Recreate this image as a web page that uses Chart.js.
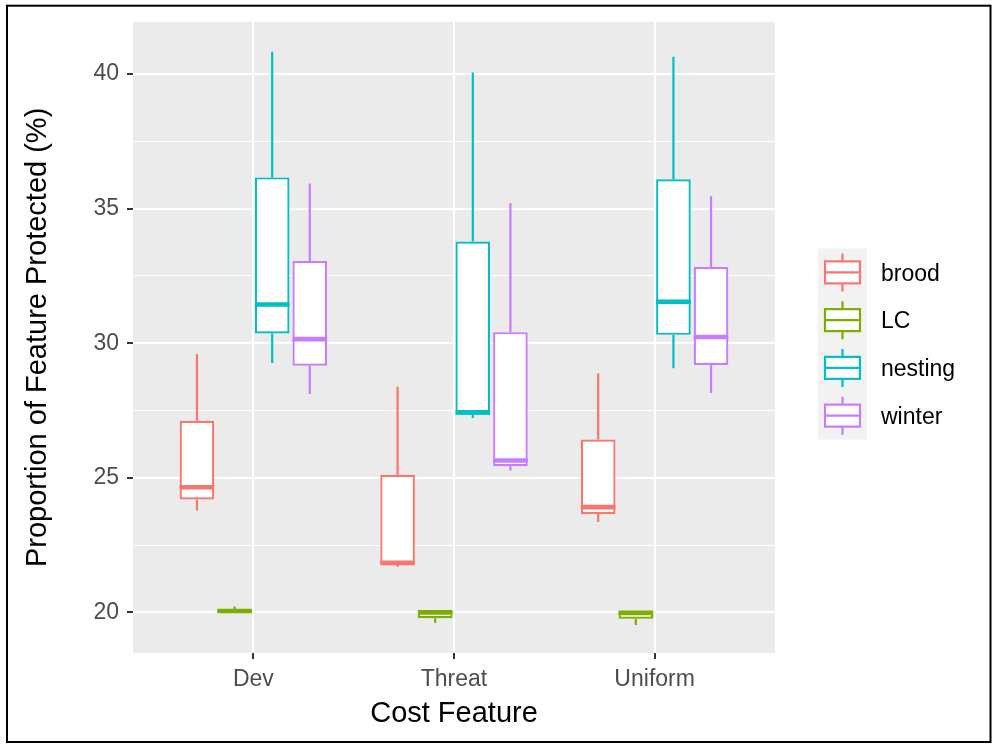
<!DOCTYPE html>
<html>
<head>
<meta charset="utf-8">
<title>Proportion of Feature Protected by Cost Feature</title>
<script src="https://cdn.jsdelivr.net/npm/chart.js@4/dist/chart.umd.min.js"></script>
<style>
  html, body { margin: 0; padding: 0; background: #ffffff; }
  canvas { display: block; }
</style>
</head>
<body>
<canvas id="chart" width="995" height="744"></canvas>
<script>
// Cost features on the x axis
const categories = ['Dev', 'Threat', 'Uniform'];
// Feature groups (one box per group within each cost feature)
const groups = ['brood', 'LC', 'nesting', 'winter'];

// Five-number summaries per cost feature: [lower whisker, Q1, median, Q3, upper whisker]
const broodStats = [
  [23.78, 24.19, 24.65, 27.12, 29.59],
  [21.69, 21.76, 21.84, 25.11, 28.38],
  [23.36, 23.65, 23.91, 26.42, 28.87]
];
const lcStats = [
  [19.99, 20.00, 20.05, 20.10, 20.22],
  [19.61, 19.78, 20.00, 20.06, 20.06],
  [19.53, 19.76, 19.98, 20.04, 20.04]
];
const nestingStats = [
  [29.26, 30.36, 31.44, 36.16, 40.83],
  [27.22, 27.34, 27.43, 33.78, 40.06],
  [29.07, 30.31, 31.54, 36.09, 40.64]
];
const winterStats = [
  [28.11, 29.16, 30.15, 33.05, 35.93],
  [25.27, 25.43, 25.64, 30.41, 35.21],
  [28.15, 29.19, 30.23, 32.83, 35.46]
];

// Axis ticks
const yMajorTicks = [20, 25, 30, 35, 40];
const yMinorTicks = [22.5, 27.5, 32.5, 37.5];
const xTickPositions = [1, 2, 3];

// Styling
const groupColors = ['#F8766D', '#7CAE00', '#00BFC4', '#C77CFF'];
const FONT = '"Liberation Sans", Arial, Helvetica, sans-serif';
const BOX_LINE = 2.2;
const MEDIAN_LINE = 4.6;

const allStats = [broodStats, lcStats, nestingStats, winterStats];
const yTicks = yMajorTicks.concat(yMinorTicks).sort((a, b) => a - b);

const datasets = groups.map((g, i) => ({
  label: g,
  data: allStats[i].map((s, c) => ({ x: xTickPositions[c], y: [s[1], s[3]], stats: s })),
  backgroundColor: '#ffffff',
  borderColor: groupColors[i],
  borderWidth: BOX_LINE,
  borderSkipped: false,
  categoryPercentage: 0.75,
  barPercentage: 0.92
}));

// Draws panel background, whiskers, medians and the legend
const boxplotPlugin = {
  id: 'boxplotParts',
  beforeDraw(chart) {
    const { ctx, chartArea: a } = chart;
    ctx.save();
    ctx.fillStyle = '#ffffff';
    ctx.fillRect(0, 0, chart.width, chart.height);
    ctx.fillStyle = '#EBEBEB';
    ctx.fillRect(a.left, a.top, a.right - a.left, a.bottom - a.top);
    ctx.strokeStyle = '#000000';
    ctx.lineWidth = 2;
    ctx.strokeRect(7, 5.7, 983.5, 736.3);
    ctx.restore();
  },
  beforeDatasetsDraw(chart) {
    const { ctx } = chart;
    const y = chart.scales.y;
    ctx.save();
    chart.data.datasets.forEach((ds, i) => {
      const meta = chart.getDatasetMeta(i);
      meta.data.forEach((bar, j) => {
        const s = ds.data[j].stats;
        const { x } = bar.getProps(['x'], true);
        ctx.strokeStyle = ds.borderColor;
        ctx.lineWidth = BOX_LINE;
        ctx.beginPath();
        ctx.moveTo(x, y.getPixelForValue(s[3]));
        ctx.lineTo(x, y.getPixelForValue(s[4]));
        ctx.moveTo(x, y.getPixelForValue(s[1]));
        ctx.lineTo(x, y.getPixelForValue(s[0]));
        ctx.stroke();
      });
    });
    ctx.restore();
  },
  afterDatasetsDraw(chart) {
    const { ctx } = chart;
    const y = chart.scales.y;
    ctx.save();
    chart.data.datasets.forEach((ds, i) => {
      const meta = chart.getDatasetMeta(i);
      meta.data.forEach((bar, j) => {
        const s = ds.data[j].stats;
        const { x, width } = bar.getProps(['x', 'width'], true);
        const py = y.getPixelForValue(s[2]);
        ctx.strokeStyle = ds.borderColor;
        ctx.lineWidth = MEDIAN_LINE;
        ctx.beginPath();
        ctx.moveTo(x - width / 2, py);
        ctx.lineTo(x + width / 2, py);
        ctx.stroke();
      });
    });
    ctx.restore();
  },
  afterDraw(chart) {
    const { ctx } = chart;
    const keyLeft = 818, keyW = 49, keyTop = 248.5, keyH = 47.75;
    ctx.save();
    ctx.fillStyle = '#F2F2F2';
    ctx.fillRect(keyLeft, keyTop, keyW, keyH * groups.length);
    chart.data.datasets.forEach((ds, i) => {
      const cy = keyTop + keyH * i + keyH / 2;
      const cx = keyLeft + keyW / 2;
      ctx.strokeStyle = ds.borderColor;
      ctx.lineWidth = BOX_LINE;
      ctx.beginPath();
      ctx.moveTo(cx, cy - 19); ctx.lineTo(cx, cy - 11);
      ctx.moveTo(cx, cy + 11); ctx.lineTo(cx, cy + 19);
      ctx.stroke();
      ctx.fillStyle = '#ffffff';
      ctx.fillRect(cx - 17.5, cy - 11, 35, 22);
      ctx.strokeRect(cx - 17.5, cy - 11, 35, 22);
      ctx.beginPath();
      ctx.moveTo(cx - 17.5, cy); ctx.lineTo(cx + 17.5, cy);
      ctx.stroke();
      ctx.fillStyle = '#000000';
      ctx.font = '23px ' + FONT;
      ctx.textAlign = 'left';
      ctx.textBaseline = 'middle';
      ctx.fillText(ds.label, 881, cy + 2);
    });
    ctx.restore();
  }
};

new Chart(document.getElementById('chart'), {
  type: 'bar',
  data: { datasets },
  plugins: [boxplotPlugin],
  options: {
    responsive: false,
    devicePixelRatio: 1,
    animation: false,
    layout: { padding: { top: 20, right: 220, left: 0, bottom: 0 } },
    plugins: {
      legend: { display: false },
      tooltip: { enabled: false }
    },
    scales: {
      x: {
        type: 'linear',
        min: 0.4,
        max: 3.6,
        offset: false,
        afterBuildTicks: (s) => { s.ticks = xTickPositions.map(v => ({ value: v })); },
        afterFit: (s) => { s.height = 91; },
        border: { display: false },
        grid: {
          offset: false,
          color: '#ffffff',
          lineWidth: 2,
          drawTicks: true,
          tickLength: 6,
          tickWidth: 2,
          tickColor: '#333333'
        },
        ticks: {
          autoSkip: false,
          maxRotation: 0,
          padding: 7,
          color: '#4D4D4D',
          font: { family: FONT, size: 23 },
          callback: (v) => categories[xTickPositions.indexOf(v)] ?? ''
        },
        title: {
          display: true,
          text: 'Cost Feature',
          color: '#000000',
          font: { family: FONT, size: 29 },
          padding: { top: 0, bottom: 13 }
        }
      },
      y: {
        type: 'linear',
        min: 18.49,
        max: 41.94,
        afterBuildTicks: (s) => { s.ticks = yTicks.map(v => ({ value: v })); },
        afterFit: (s) => { s.width = 133; },
        border: { display: false },
        grid: {
          color: '#ffffff',
          lineWidth: (ctx) => (yMajorTicks.includes(ctx.tick && ctx.tick.value) ? 2 : 1),
          drawTicks: true,
          tickLength: 6,
          tickWidth: 2,
          tickColor: (ctx) => (yMajorTicks.includes(ctx.tick && ctx.tick.value) ? '#333333' : 'rgba(0,0,0,0)')
        },
        ticks: {
          autoSkip: false,
          padding: 8,
          color: '#4D4D4D',
          font: { family: FONT, size: 23 },
          callback: (v) => (yMajorTicks.includes(v) ? String(v) : '')
        },
        title: {
          display: true,
          text: 'Proportion of Feature Protected (%)',
          color: '#000000',
          font: { family: FONT, size: 29 },
          padding: { top: 21, bottom: 0 }
        }
      }
    }
  }
});
</script>
</body>
</html>
